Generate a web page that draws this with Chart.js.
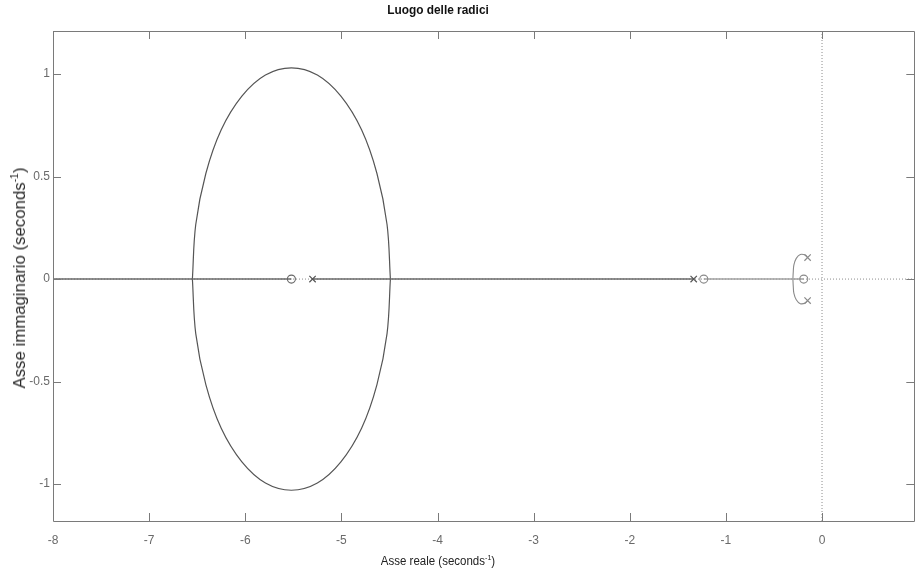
<!DOCTYPE html>
<html>
<head>
<meta charset="utf-8">
<script src="https://cdn.jsdelivr.net/npm/chart.js@4.4.1/dist/chart.umd.min.js"></script>
<style>
  html, body { margin:0; padding:0; background:#fff; overflow:hidden; width:915px; height:573px; }
  #wrap { position:relative; width:915px; height:573px; overflow:hidden; }
  canvas { position:absolute; left:0; top:0; }
  .lbl { position:absolute; font-family:"Liberation Sans", Arial, sans-serif; color:#222; white-space:nowrap; }
  #title { left:438px; top:3px; transform:translateX(-50%) scaleX(0.95); font-size:12.5px; font-weight:bold; color:#111; }
  #xtitle { left:438px; top:554px; transform:translateX(-50%) scaleX(0.92); font-size:12.5px; }
  #ytitle { left:20px; top:278px; transform:translate(-50%,-50%) rotate(-90deg); font-size:16.8px; color:#2a2a2a; }
  sup { font-size:62%; vertical-align:super; line-height:0; }
</style>
</head>
<body>
<div id="wrap">
  <canvas id="c" width="920" height="573"></canvas>
  <div class="lbl" id="title">Luogo delle radici</div>
  <div class="lbl" id="xtitle">Asse reale (seconds<sup>-1</sup>)</div>
  <div class="lbl" id="ytitle">Asse immaginario (seconds<sup>-1</sup>)</div>
</div>
<script>
// ---- data ----
const xTicks = [-8, -7, -6, -5, -4, -3, -2, -1, 0];
const xTickLabels = ['-8', '-7', '-6', '-5', '-4', '-3', '-2', '-1', '0'];
const yTicks = [-1, -0.5, 0, 0.5, 1];
const yTickLabels = ['-1', '-0.5', '0', '0.5', '1'];
const xRange = [-8, 0.96];
const yRange = [-1.18, 1.21];

const zerosRe = [-5.52, -1.23, -0.19];
const zerosIm = [0, 0, 0];
const polesRe = [-5.30, -1.335, -0.15, -0.15];
const polesIm = [0, 0, 0.105, -0.105];

const branchLeftRe = [-8, -6.55, -5.52];
const branchLeftIm = [0, 0, 0];
const branchMidRe = [-5.30, -4.49, -1.335];
const branchMidIm = [0, 0, 0];

const circleUpperRe = [-4.49, -4.525, -4.63, -4.79, -5.005, -5.25, -5.52, -5.79, -6.035, -6.25, -6.41, -6.515, -6.55];
const circleUpperIm = [0, 0.266, 0.515, 0.728, 0.892, 0.995, 1.03, 0.995, 0.892, 0.728, 0.515, 0.266, 0];
const circleLowerRe = [-4.49, -4.525, -4.63, -4.79, -5.005, -5.25, -5.52, -5.79, -6.035, -6.25, -6.41, -6.515, -6.55];
const circleLowerIm = [0, -0.266, -0.515, -0.728, -0.892, -0.995, -1.03, -0.995, -0.892, -0.728, -0.515, -0.266, 0];

const branchRightRe = [-1.23, -0.303, -0.19];
const branchRightIm = [0, 0, 0];
const arcUpperRe = [-0.15, -0.174, -0.226, -0.268, -0.293, -0.299, -0.303];
const arcUpperIm = [0.105, 0.117, 0.120, 0.101, 0.068, 0.036, 0];
const arcLowerRe = [-0.15, -0.174, -0.226, -0.268, -0.293, -0.299, -0.303];
const arcLowerIm = [-0.105, -0.117, -0.120, -0.101, -0.068, -0.036, 0];

const realAxisRe = [-8, 0.96];
const realAxisIm = [0, 0];
const imagAxisRe = [0, 0];
const imagAxisIm = [-1.18, 1.21];

// ---- build chart ----
const zip = (a, b) => a.map((v, i) => ({ x: v, y: b[i] }));
const DARK = '#6a6a6a';
const LIGHT = '#a0a0a0';

function lineDs(re, im, color, extra) {
  return Object.assign({
    data: zip(re, im), showLine: true, borderColor: color, borderWidth: 1.5,
    pointRadius: 0, pointHoverRadius: 0, fill: false, tension: 0
  }, extra || {});
}

const datasets = [
  { data: zip(zerosRe, zerosIm), pointStyle: 'circle', pointRadius: 4, borderColor: '#6c6c6c',
    pointBorderColor: ['#666', '#8a8a8a', '#8a8a8a'], backgroundColor: 'rgba(0,0,0,0)', pointBorderWidth: 1.1, showLine: false },
  { data: zip(polesRe, polesIm), pointStyle: 'crossRot', pointRadius: 4.5, borderColor: '#6c6c6c',
    pointBorderColor: ['#555', '#555', '#8a8a8a', '#8a8a8a'], pointBorderWidth: 1.2, showLine: false },
  lineDs(branchLeftRe, branchLeftIm, DARK),
  lineDs(branchMidRe, branchMidIm, DARK),
  lineDs(circleUpperRe, circleUpperIm, '#555', { tension: 0.35, borderWidth: 1.2 }),
  lineDs(circleLowerRe, circleLowerIm, '#555', { tension: 0.35, borderWidth: 1.2 }),
  lineDs(branchRightRe, branchRightIm, LIGHT),
  lineDs(arcUpperRe, arcUpperIm, '#8a8a8a', { tension: 0.35, borderWidth: 1.1 }),
  lineDs(arcLowerRe, arcLowerIm, '#8a8a8a', { tension: 0.35, borderWidth: 1.1 }),
  lineDs(realAxisRe, realAxisIm, '#8c8c8c', { borderWidth: 1, borderDash: [1, 2] }),
  lineDs(imagAxisRe, imagAxisIm, '#8c8c8c', { borderWidth: 1, borderDash: [1, 2] })
];

const framePlugin = {
  id: 'frame',
  afterDraw(chart) {
    const { ctx, chartArea: a, scales: { x, y } } = chart;
    const T = 8;
    ctx.save();
    ctx.strokeStyle = '#7a7a7a';
    ctx.lineWidth = 1;
    ctx.beginPath();
    ctx.rect(Math.round(a.left) + 0.5, Math.round(a.top) + 0.5, Math.round(a.right - a.left), Math.round(a.bottom - a.top));
    ctx.stroke();
    ctx.beginPath();
    xTicks.forEach(v => {
      const px = Math.round(x.getPixelForValue(v)) + 0.5;
      ctx.moveTo(px, a.top); ctx.lineTo(px, a.top + T);
      ctx.moveTo(px, a.bottom); ctx.lineTo(px, a.bottom - T);
    });
    yTicks.forEach(v => {
      const py = Math.round(y.getPixelForValue(v)) + 0.5;
      ctx.moveTo(a.left, py); ctx.lineTo(a.left + T, py);
      ctx.moveTo(a.right, py); ctx.lineTo(a.right - T, py);
    });
    ctx.stroke();
    ctx.restore();
  }
};

Chart.defaults.font.family = '"Liberation Sans", Arial, sans-serif';

new Chart(document.getElementById('c'), {
  type: 'scatter',
  data: { datasets },
  options: {
    responsive: false,
    animation: false,
    layout: { padding: { left: 0, top: 31, right: 4, bottom: 0 } },
    plugins: { legend: { display: false }, tooltip: { enabled: false }, title: { display: false } },
    scales: {
      x: {
        type: 'linear', min: xRange[0], max: xRange[1],
        grid: { display: false, drawTicks: false }, border: { display: false },
        afterBuildTicks: s => { s.ticks = xTicks.map(v => ({ value: v })); },
        afterFit: s => { s.height = 52; },
        ticks: { color: '#6a6a6a', font: { size: 12 }, padding: 12, maxRotation: 0, autoSkip: false,
                 callback: (v, i) => xTickLabels[i] }
      },
      y: {
        type: 'linear', min: yRange[0], max: yRange[1],
        grid: { display: false, drawTicks: false }, border: { display: false },
        afterBuildTicks: s => { s.ticks = yTicks.map(v => ({ value: v })); },
        afterFit: s => { s.width = 53; },
        ticks: { color: '#6a6a6a', font: { size: 12 }, padding: 3, autoSkip: false,
                 callback: (v, i) => yTickLabels[i] }
      }
    }
  },
  plugins: [framePlugin]
});
</script>
</body>
</html>
